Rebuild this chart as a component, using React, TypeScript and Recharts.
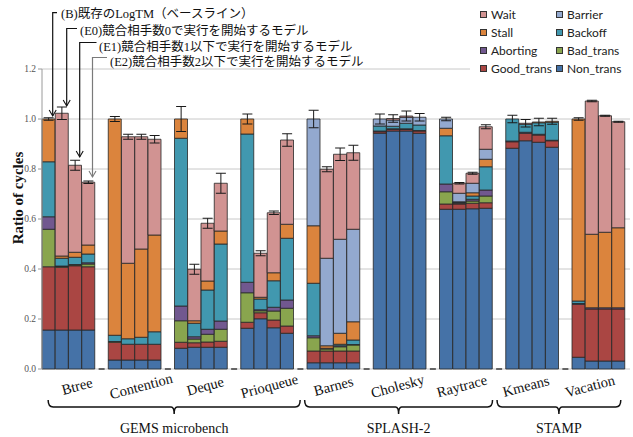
import React from "react"
import { ComposedChart, Bar, Line, ErrorBar, XAxis, YAxis, CartesianGrid, Legend } from "recharts"

const categories = ["Btree", "Contention", "Deque", "Prioqueue", "Barnes", "Cholesky", "Raytrace", "Kmeans", "Vacation"]
const variants = ["B", "E0", "E1", "E2"]

// suite name + first/last category index it covers
const suiteNames = ["GEMS microbench", "SPLASH-2", "STAMP"]
const suiteFirst = [0, 4, 7]
const suiteLast = [3, 6, 8]

// ratio of cycles per breakdown, 4 bars (B, E0, E1, E2) per benchmark
const nonTrans = [0.156, 0.156, 0.156, 0.156, 0.036, 0.036, 0.036, 0.036, 0.083, 0.087, 0.087, 0.087, 0.163, 0.201, 0.165, 0.143, 0.025, 0.025, 0.025, 0.025, 0.943, 0.952, 0.952, 0.943, 0.639, 0.639, 0.641, 0.643, 0.883, 0.913, 0.907, 0.887, 0.047, 0.032, 0.032, 0.032]
const goodTrans = [0.253, 0.251, 0.257, 0.253, 0.071, 0.063, 0.063, 0.063, 0.024, 0.018, 0.021, 0.024, 0.024, 0.024, 0.031, 0.029, 0.047, 0.047, 0.047, 0.047, 0.006, 0.007, 0.006, 0.009, 0.021, 0.021, 0.022, 0.022, 0.026, 0.03, 0.029, 0.026, 0.212, 0.208, 0.208, 0.208]
const badTrans = [0.15, 0.003, 0.003, 0.011, 0.003, 0, 0, 0, 0.086, 0.015, 0.031, 0.048, 0.118, 0.008, 0.036, 0.071, 0.053, 0.008, 0.017, 0.024, 0, 0, 0, 0, 0.049, 0.003, 0.009, 0.027, 0, 0, 0, 0, 0, 0, 0, 0]
const aborting = [0.05, 0.002, 0.002, 0.005, 0, 0, 0, 0, 0.059, 0.009, 0.02, 0.033, 0.042, 0.004, 0.015, 0.033, 0.008, 0.003, 0.004, 0.002, 0.003, 0.002, 0.003, 0.002, 0.031, 0.003, 0.007, 0.024, 0.003, 0.004, 0.003, 0.002, 0.003, 0.005, 0.005, 0.005]
const backoff = [0.22, 0.031, 0.029, 0.035, 0.025, 0.022, 0.028, 0.05, 0.671, 0.054, 0.157, 0.308, 0.593, 0.043, 0.106, 0.247, 0.21, 0, 0.006, 0.018, 0.02, 0.01, 0.022, 0.022, 0.193, 0.003, 0.013, 0.093, 0.088, 0.032, 0.046, 0.072, 0.01, 0, 0, 0]
const stall = [0.171, 0.009, 0.02, 0.036, 0.865, 0.302, 0.353, 0.387, 0.077, 0.01, 0.036, 0.052, 0.06, 0.007, 0.032, 0.056, 0.23, 0.01, 0.044, 0.073, 0, 0, 0, 0, 0.03, 0, 0.013, 0.03, 0, 0, 0.003, 0.004, 0.728, 0.294, 0.302, 0.32]
const barrier = [0, 0, 0, 0, 0, 0, 0, 0, 0, 0, 0, 0, 0, 0, 0, 0, 0.427, 0.35, 0.376, 0.37, 0.028, 0.025, 0.024, 0.031, 0.037, 0.034, 0.038, 0.04, 0, 0, 0, 0, 0, 0, 0, 0]
const wait = [0, 0.571, 0.348, 0.251, 0, 0.506, 0.449, 0.383, 0, 0.206, 0.231, 0.191, 0, 0.176, 0.24, 0.337, 0, 0.356, 0.34, 0.306, 0, 0.006, 0.005, 0, 0, 0.04, 0.04, 0.09, 0, 0.004, 0, 0, 0, 0.533, 0.466, 0.424]
const errors = [0.005, 0.025, 0.02, 0.005, 0.01, 0.01, 0.01, 0.015, 0.05, 0.02, 0.02, 0.04, 0.02, 0.01, 0.007, 0.025, 0.035, 0.01, 0.025, 0.03, 0.02, 0.015, 0.02, 0.015, 0.007, 0.003, 0.004, 0.008, 0.015, 0.015, 0.015, 0.012, 0.005, 0.003, 0.002, 0.002]

const yTicks = [0, 0.2, 0.4, 0.6, 0.8, 1.0, 1.2]

// bottom to top stacking order
const series = [
  { key: "nonTrans", name: "Non_trans", color: "#4572A7", values: nonTrans },
  { key: "goodTrans", name: "Good_trans", color: "#AA4643", values: goodTrans },
  { key: "badTrans", name: "Bad_trans", color: "#89A54E", values: badTrans },
  { key: "aborting", name: "Aborting", color: "#71588F", values: aborting },
  { key: "backoff", name: "Backoff", color: "#4198AF", values: backoff },
  { key: "stall", name: "Stall", color: "#DB843D", values: stall },
  { key: "barrier", name: "Barrier", color: "#93A9CF", values: barrier },
  { key: "wait", name: "Wait", color: "#D19392", values: wait },
]

const legendOrder = ["wait", "barrier", "stall", "backoff", "aborting", "badTrans", "goodTrans", "nonTrans"]

const rows: any[] = []
categories.forEach((cat, g) => {
  if (g > 0) rows.push({ name: `gap${g}`, slot: rows.length })
  variants.forEach((v, k) => {
    const i = g * 4 + k
    const row: any = { name: `${cat}-${v}`, slot: rows.length, err: errors[i] }
    let total = 0
    series.forEach((s) => {
      row[s.key] = s.values[i]
      total += s.values[i]
    })
    row.total = total
    rows.push(row)
  })
})

const W = 633
const H = 437
const M = { top: 69, right: 3, bottom: 0, left: 0 }
const Y_W = 42
const PLOT_BOTTOM = 369
const LAST_SLOT = rows.length - 1
const LBL_PAD = { left: 35, right: 40 }
// label axis runs over slot units; category g sits at g * step
const LBL_STEP = LAST_SLOT / (categories.length - 1)
const SLOT_PX = (W - M.left - Y_W - M.right - LBL_PAD.left - LBL_PAD.right) / LAST_SLOT
const serif = "'Liberation Serif', 'Times New Roman', serif"

const GapTick = (props: any) => {
  const { x, payload } = props
  if (!String(payload.value).startsWith("gap")) return <g />
  return <line x1={x - 3} x2={x + 3} y1={PLOT_BOTTOM} y2={PLOT_BOTTOM} stroke="#111" strokeWidth={1.2} />
}

const CategoryTick = (props: any) => {
  const { x, index } = props
  const y = PLOT_BOTTOM + 17
  return (
    <g transform={`translate(${x},${y}) rotate(-15)`}>
      <text x={0} y={0} textAnchor="middle" dominantBaseline="central" fontFamily={serif} fontSize={14.5} fill="#111">
        {categories[index]}
      </text>
    </g>
  )
}

const suiteFrom = suiteFirst.map((f) => (f - 0.45) * LBL_STEP)
const suiteTo = suiteLast.map((l) => (l + 0.48) * LBL_STEP)
const suiteCenters = suiteNames.map((_, i) => (suiteFrom[i] + suiteTo[i]) / 2)

const SuiteTick = (props: any) => {
  const { x, index } = props
  const half = ((suiteTo[index] - suiteFrom[index]) / 2) * SLOT_PX
  const x1 = x - half
  const x2 = x + half
  const y = PLOT_BOTTOM + 38
  const d = `M${x1},${y - 7} Q${x1},${y} ${x1 + 5},${y} L${x - 3},${y} Q${x},${y} ${x},${y + 7} Q${x},${y} ${x + 3},${y} L${x2 - 5},${y} Q${x2},${y} ${x2},${y - 7}`
  return (
    <g>
      <path d={d} fill="none" stroke="#111" strokeWidth={1.5} />
      <text x={x} y={y + 21} textAnchor="middle" dominantBaseline="central" fontFamily={serif} fontSize={14} fill="#111">
        {suiteNames[index]}
      </text>
    </g>
  )
}

const renderLegend = () => (
  <div style={{ position: "relative", width: 163, height: 80, fontFamily: "Lato, 'Open Sans', sans-serif", fontSize: 12, color: "#222" }}>
    {legendOrder.map((k, i) => {
      const s = series.find((x) => x.key === k)!
      const col = i % 2
      const row = Math.floor(i / 2)
      return (
        <div key={k} style={{ position: "absolute", left: 10 + col * 76, top: 14 + row * 18.3 - 8, height: 16, display: "flex", alignItems: "center", whiteSpace: "nowrap" }}>
          <span style={{ width: 5, height: 5, background: s.color, border: "0.5px solid #333", marginRight: 4, display: "inline-block" }} />
          {s.name}
        </div>
      )
    })}
  </div>
)

const notes = [
  { text: "(B)既存のLogTM（ベースライン）", lineY: 12.7, lineX: 52.7, endX: 57, tipY: 116, textX: 61, textY: 14, color: "#111" },
  { text: "(E0)競合相手数0で実行を開始するモデル", lineY: 28.5, lineX: 66.7, endX: 77, tipY: 106, textX: 80, textY: 31, color: "#111" },
  { text: "(E1)競合相手数1以下で実行を開始するモデル", lineY: 42.5, lineX: 79.7, endX: 96.5, tipY: 157, textX: 99, textY: 47, color: "#111" },
  { text: "(E2)競合相手数2以下で実行を開始するモデル", lineY: 57.5, lineX: 92.5, endX: 107, tipY: 177, textX: 110, textY: 62, color: "#7a7a7a" },
]

export default function App() {
  return (
    <div style={{ position: "absolute", left: 0, top: 0, width: W, height: H, background: "#fff" }}>
      <ComposedChart width={W} height={H} data={rows} margin={M} barCategoryGap={0} barGap={0}>
        <CartesianGrid vertical={false} stroke="#c8c8c8" />
        <XAxis dataKey="name" interval={0} tickLine={false} axisLine={false} height={1} padding={{ left: 0, right: 5 }}
          tick={<GapTick />} />
        <XAxis xAxisId="lbl" dataKey="slot" type="number" domain={[0, LAST_SLOT]}
          ticks={categories.map((_, i) => i * LBL_STEP)} interval={0} padding={LBL_PAD} axisLine={false} tickLine={false}
          height={31} tick={<CategoryTick />} />
        <XAxis xAxisId="grp" dataKey="slot" type="number" domain={[0, LAST_SLOT]}
          ticks={suiteCenters} interval={0} padding={LBL_PAD} axisLine={false} tickLine={false}
          height={36} tick={<SuiteTick />} />
        <YAxis width={Y_W} domain={[0, 1.2]} ticks={yTicks} interval={0} tickFormatter={(v: number) => v.toFixed(1)}
          axisLine={{ stroke: "#9a9a9a" }} tickLine={{ stroke: "#9a9a9a" }} tickSize={4} tickMargin={2}
          tick={{ fontFamily: serif, fontSize: 9.5, fill: "#555" }}
          label={{
            content: () => (
              <text x={18} y={198} transform="rotate(-90 18 198)" textAnchor="middle" dominantBaseline="central"
                fontFamily={serif} fontSize={15} fontWeight="bold" fill="#111">
                Ratio of cycles
              </text>
            ),
          }} />
        <Legend layout="horizontal" verticalAlign="middle" align="center" content={renderLegend}
          wrapperStyle={{ left: 470, top: 0, width: 163, height: 80, background: "#fff" }} />
        {series.map((s) => (
          <Bar key={s.key} dataKey={s.key} name={s.name} stackId="a" fill={s.color} stroke="#262626"
            strokeWidth={0.8} isAnimationActive={false} />
        ))}
        <Line dataKey="total" stroke="none" dot={false} activeDot={false} legendType="none" isAnimationActive={false}>
          <ErrorBar dataKey="err" width={5} stroke="#1a1a1a" strokeWidth={1} />
        </Line>
      </ComposedChart>
      <svg width={W} height={H} style={{ position: "absolute", left: 0, top: 0, pointerEvents: "none" }}>
        {notes.map((n) => (
          <g key={n.text}>
            <path d={`M${n.endX},${n.lineY} H${n.lineX} V${n.tipY}`} fill="none" stroke={n.color} strokeWidth={1.2} />
            <path d={`M${n.lineX - 3.5},${n.tipY - 6} L${n.lineX},${n.tipY} L${n.lineX + 3.5},${n.tipY - 6}`} fill="none" stroke={n.color} strokeWidth={1.1} />
            <text x={n.textX} y={n.textY} dominantBaseline="central" fontFamily={`${serif}, 'Noto Sans CJK JP'`} fontSize={12.5} fill="#111">
              {n.text}
            </text>
          </g>
        ))}
      </svg>
    </div>
  )
}
